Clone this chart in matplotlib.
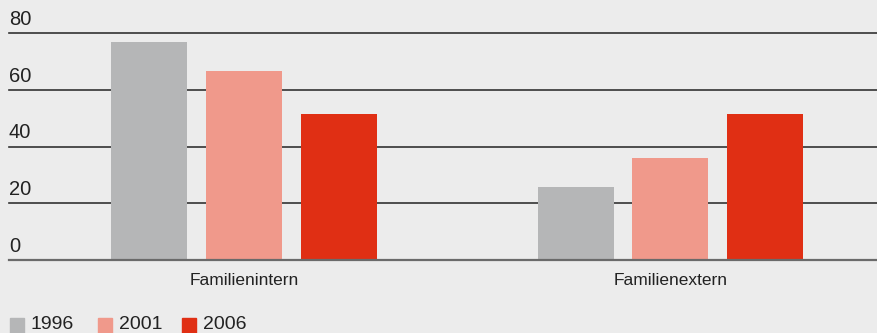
import numpy as np
import matplotlib.pyplot as plt
from matplotlib.patches import Rectangle

plt.rcParams['font.family'] = ['Liberation Sans', 'DejaVu Sans']

categories = ['Familienintern', 'Familienextern']
years = ['1996', '2001', '2006']
values = {
    '1996': [77, 25.7],
    '2001': [66.5, 35.9],
    '2006': [51.4, 51.4],
}
colors = ['#b5b6b7', '#f0998b', '#e02f14']
yticks = [0, 20, 40, 60, 80]

bg = '#ececec'
W, H = 878, 333
fig = plt.figure(figsize=(W / 100, H / 100), dpi=100, facecolor=bg)

# axes from x=9px to the right edge, y from 0 line (260px) to 80 line (33px)
ax = fig.add_axes([9 / W, (H - 260) / H, (W - 9) / W, 227 / H])
ax.set_facecolor(bg)

unit = 426.0
x = np.arange(len(categories))
width = 76 / unit
step = 95 / unit
for i, (yr, c) in enumerate(zip(years, colors)):
    ax.bar(x + (i - 1) * step, values[yr], width=width, color=c, zorder=3)

ax.set_xlim(-235.5 / unit, 633.5 / unit)
ax.set_ylim(0, 80)

for v in yticks:
    col = '#6a6a6a' if v == 0 else '#333333'
    ax.axhline(v, color=col, lw=1.6 if v == 0 else 1.2, zorder=2 if v else 4,
               clip_on=False)
    ax.text(0, v + 2.9, str(v), transform=ax.get_yaxis_transform(),
            fontsize=14.5, color='#222222', ha='left', va='baseline')

for sp in ax.spines.values():
    sp.set_visible(False)
ax.set_yticks([])
ax.set_xticks(x)
ax.set_xticklabels(categories, fontsize=12.5, color='#222222')
ax.tick_params(axis='x', length=0, pad=9.5)

# legend along the bottom edge
legend_x = [10, 98, 182]
for xp, yr, c in zip(legend_x, years, colors):
    fig.patches.append(Rectangle((xp / W, 0), 14 / W, 15 / H, color=c,
                                 transform=fig.transFigure, figure=fig))
    fig.text((xp + 21) / W, 4 / H, yr, fontsize=14, color='#222222',
             ha='left', va='baseline')

fig.savefig('out.png', dpi=100, facecolor=bg)
